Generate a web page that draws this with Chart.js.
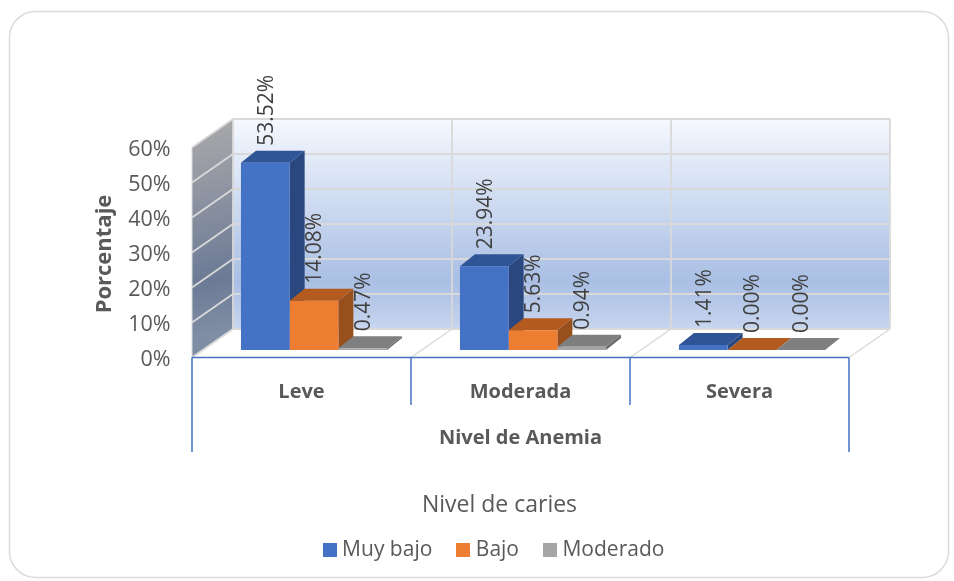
<!DOCTYPE html>
<html>
<head>
<meta charset="utf-8">
<style>html,body{margin:0;padding:0;background:#fff}canvas{display:block}</style>
<script src="https://cdn.jsdelivr.net/npm/chart.js@4/dist/chart.umd.min.js"></script>
</head>
<body>
<canvas id="c" width="954" height="581"></canvas>
<script>
const categories = ['Leve', 'Moderada', 'Severa'];
const muyBajo = [53.52, 23.94, 1.41];
const bajo = [14.08, 5.63, 0.00];
const moderado = [0.47, 0.94, 0.00];
const seriesNames = ['Muy bajo', 'Bajo', 'Moderado'];
const yTickStep = 10;
const yMax = 60;
const axisName = 'Nivel de Anemia';
const valueName = 'Porcentaje';
const legendName = 'Nivel de caries';

const FONT = '"Open Sans", "Noto Sans", sans-serif';
const TEXT = '#595959';
const GRID = '#d9d9d9';
const AXIS = '#4472c4';
const FRONT = {dx: -12.5, dy: 7.5};
const BACK = {dx: 28.5, dy: -21};
const BAR_DEPTH = {dx: 15, dy: -12};
const faces = [
  {front: '#4472c4', top: '#2f5597', side: '#2a477f'},
  {front: '#ed7d31', top: '#b35a1f', side: '#994f1b'},
  {front: '#a5a5a5', top: '#7f7f7f', side: '#6a6a6a'}
];

function swatch(color) {
  const s = document.createElement('canvas');
  s.width = 14; s.height = 14;
  const g = s.getContext('2d');
  g.fillStyle = color;
  g.fillRect(0, 0, 14, 14);
  return s;
}
function poly(ctx, pts, fill) {
  ctx.beginPath();
  pts.forEach((p, i) => i ? ctx.lineTo(p[0], p[1]) : ctx.moveTo(p[0], p[1]));
  ctx.closePath();
  ctx.fillStyle = fill;
  ctx.fill();
}
function seg(ctx, a, b, color, w) {
  ctx.beginPath();
  ctx.moveTo(a[0], a[1]);
  ctx.lineTo(b[0], b[1]);
  ctx.strokeStyle = color;
  ctx.lineWidth = w;
  ctx.stroke();
}

const scene = {
  id: 'scene',
  afterLayout(chart) {
    const x = chart.scales.x, y = chart.scales.y, legend = chart.legend;
    y.bottom += 18;
    x.left -= 25;
    x.bottom = 450;
    legend.left = 45;
    legend.right = 954;
    legend.top = 494;
    legend.lineWidths[0] += 7;
  },
  beforeDraw(chart) {
    const ctx = chart.ctx;
    ctx.save();
    ctx.beginPath();
    ctx.roundRect(9.5, 11.5, 939, 566, 26);
    ctx.fillStyle = '#fff';
    ctx.fill();
    ctx.strokeStyle = '#dcdcdc';
    ctx.lineWidth = 1.5;
    ctx.stroke();
    ctx.restore();
  },
  beforeDatasetsDraw(chart) {
    const ctx = chart.ctx, xs = chart.scales.x, ys = chart.scales.y;
    const catW = xs.getPixelForValue(1) - xs.getPixelForValue(0);
    const edges = categories.map((_, i) => xs.getPixelForValue(i) - catW / 2);
    edges.push(edges[edges.length - 1] + catW);
    const L = edges[0], R = edges[edges.length - 1];
    const y0 = ys.getPixelForValue(0), yM = ys.getPixelForValue(yMax);
    const f = (px, py) => [px + FRONT.dx, py + FRONT.dy];
    const b = (px, py) => [px + BACK.dx, py + BACK.dy];
    ctx.save();

    // back wall
    const bt = b(L, yM), bb = b(R, y0);
    const g = ctx.createLinearGradient(0, bt[1], 0, bb[1]);
    g.addColorStop(0, '#f5f8fe');
    g.addColorStop(0.77, '#a9bfe4');
    g.addColorStop(0.83, '#b0c4e6');
    g.addColorStop(1, '#c8d6ee');
    ctx.fillStyle = g;
    ctx.fillRect(bt[0], bt[1], bb[0] - bt[0], bb[1] - bt[1]);

    // left wall
    const ft = f(L, yM), fb = f(L, y0), bl = b(L, y0);
    const g2 = ctx.createLinearGradient(ft[0], ft[1] - 20, bt[0], bb[1]);
    g2.addColorStop(0, '#a8a8aa');
    g2.addColorStop(0.75, '#6c7a96');
    g2.addColorStop(1, '#7f8ea4');
    poly(ctx, [ft, bt, bl, fb], g2);

    // grid
    ys.ticks.forEach(t => {
      const p = ys.getPixelForValue(t.value);
      seg(ctx, f(L, p), b(L, p), GRID, 1.8);
      seg(ctx, b(L, p), b(R, p), GRID, 1.8);
    });
    edges.forEach(e => {
      seg(ctx, b(e, yM), b(e, y0), GRID, 1.8);
      seg(ctx, f(e, y0), b(e, y0), GRID, 1.4);
    });
    seg(ctx, f(L, yM), f(L, y0), GRID, 1);

    // blue multi-level axis
    seg(ctx, f(L, y0), f(R, y0), AXIS, 1.5);
    const lv1 = 405, lv2 = 452;
    edges.forEach((e, i) => {
      const outer = i === 0 || i === edges.length - 1;
      seg(ctx, f(e, y0), [e + FRONT.dx, outer ? lv2 : lv1], AXIS, 1.5);
    });

    // bar depth faces, left to right
    for (let j = 0; j < categories.length; j++) {
      chart.data.datasets.forEach((ds, i) => {
        const bar = chart.getDatasetMeta(i).data[j];
        const hw = bar.width / 2, l = bar.x - hw, r = bar.x + hw, t = bar.y, bs = bar.base;
        const dx = BAR_DEPTH.dx, dy = BAR_DEPTH.dy;
        poly(ctx, [[r, t], [r + dx, t + dy], [r + dx, bs + dy], [r, bs]], faces[i].side);
        poly(ctx, [[l, t], [l + dx, t + dy], [r + dx, t + dy], [r, t]], faces[i].top);
      });
    }
    ctx.restore();
  },
  afterDatasetsDraw(chart) {
    const ctx = chart.ctx;
    ctx.save();
    ctx.fillStyle = '#404040';
    ctx.font = '21px ' + FONT;
    ctx.textAlign = 'left';
    ctx.textBaseline = 'middle';
    chart.data.datasets.forEach((ds, i) => {
      chart.getDatasetMeta(i).data.forEach((bar, j) => {
        ctx.save();
        ctx.translate(bar.x + 1.5, bar.y - 17);
        ctx.rotate(-Math.PI / 2);
        ctx.fillText(ds.data[j].toFixed(2) + '%', 0, 0);
        ctx.restore();
      });
    });
    ctx.restore();
  }
};

new Chart(document.getElementById('c'), {
  type: 'bar',
  plugins: [scene],
  data: {
    labels: categories,
    datasets: [muyBajo, bajo, moderado].map((values, i) => ({
      label: seriesNames[i],
      data: values,
      backgroundColor: faces[i].front,
      categoryPercentage: 0.667,
      barPercentage: 1,
      borderWidth: 0
    }))
  },
  options: {
    responsive: false,
    animation: false,
    layout: {padding: {left: 0, right: 92.5, top: 140, bottom: 0}},
    scales: {
      x: {
        grid: {display: false},
        border: {display: false},
        afterFit(s) { s.height = 231 - s.chart.legend.height; },
        ticks: {
          color: TEXT, font: {family: FONT, size: 20, weight: 'bold'},
          padding: 22, labelOffset: -12.5, maxRotation: 0, autoSkip: false
        },
        title: {
          display: true, text: axisName, color: TEXT,
          font: {family: FONT, size: 20, weight: 'bold'}, padding: 0
        }
      },
      y: {
        min: 0, max: yMax,
        grid: {display: false},
        border: {display: false},
        afterFit(s) { s.width = 204.5; },
        ticks: {
          stepSize: yTickStep, color: TEXT,
          font: {family: FONT, size: 21.5},
          padding: 26,
          labelOffset: 10,
          callback: v => v + '%'
        },
        title: {
          display: true, text: valueName, color: TEXT,
          font: {family: FONT, size: 22, weight: 'bold'}, padding: {top: 92, bottom: 0}
        }
      }
    },
    plugins: {
      tooltip: {enabled: false},
      legend: {
        position: 'bottom',
        title: {
          display: true, text: legendName, color: TEXT,
          font: {family: FONT, size: 23}, padding: {top: 0, bottom: -11.5}
        },
        labels: {
          color: TEXT, font: {family: FONT, size: 21},
          usePointStyle: true, pointStyleWidth: 4, padding: 29,
          generateLabels(chart) {
            return Chart.defaults.plugins.legend.labels.generateLabels(chart).map((it, i) => {
              it.pointStyle = swatch(faces[i].front);
              return it;
            });
          }
        }
      }
    }
  }
});
</script>
</body>
</html>
